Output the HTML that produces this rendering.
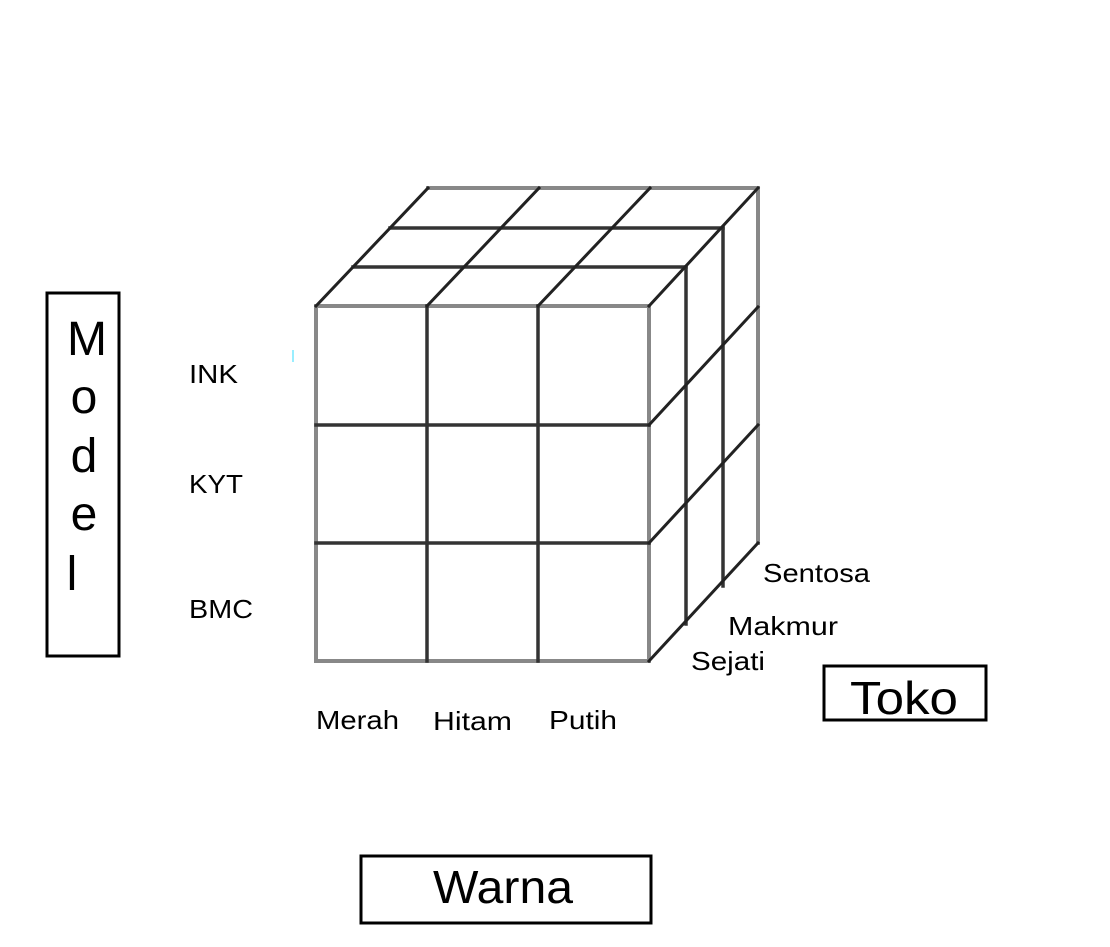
<!DOCTYPE html>
<html><head><style>body{margin:0;background:#fff}svg{display:block}</style></head>
<body>
<svg width="1110" height="947" viewBox="0 0 1110 947" xmlns="http://www.w3.org/2000/svg" font-family="Liberation Sans, sans-serif">
<g stroke-linecap="square" fill="none">
<g stroke="#888" stroke-width="4">
<line x1="316" y1="306" x2="316" y2="661"/>
<line x1="316" y1="661" x2="649" y2="661"/>
<line x1="649" y1="306" x2="649" y2="661"/>
<line x1="316" y1="306" x2="649" y2="306"/>
<line x1="428" y1="188" x2="758" y2="188"/>
<line x1="758" y1="188" x2="758" y2="543"/>
</g>
<g stroke="#333" stroke-width="3.5">
<line x1="427" y1="306" x2="427" y2="661"/>
<line x1="538" y1="306" x2="538" y2="661"/>
<line x1="316" y1="425" x2="649" y2="425"/>
<line x1="316" y1="543" x2="649" y2="543"/>
<line x1="353" y1="267" x2="686" y2="267"/>
<line x1="390" y1="228" x2="723" y2="228"/>
<line x1="686" y1="267" x2="686" y2="624"/>
<line x1="723" y1="228" x2="723" y2="586"/>
</g>
<g stroke="#222" stroke-width="3">
<line x1="316" y1="306" x2="428" y2="188"/>
<line x1="427" y1="306" x2="539" y2="188"/>
<line x1="538" y1="306" x2="650" y2="188"/>
<line x1="649" y1="306" x2="758" y2="188"/>
<line x1="649" y1="425" x2="758" y2="307"/>
<line x1="649" y1="543" x2="758" y2="425"/>
<line x1="649" y1="661" x2="758" y2="543"/>
</g>
</g>
<rect x="47" y="293" width="72" height="363" fill="none" stroke="#000" stroke-width="3"/>
<g font-size="48" text-anchor="middle" fill="#000">
<text x="87" y="355">M</text>
<text x="84" y="413">o</text>
<text x="84" y="472">d</text>
<text x="84" y="530">e</text>
<text x="72" y="590">l</text>
</g>
<g font-size="26" fill="#000" lengthAdjust="spacingAndGlyphs">
<text x="189" y="383" textLength="49" lengthAdjust="spacingAndGlyphs">INK</text>
<text x="189" y="493" textLength="54" lengthAdjust="spacingAndGlyphs">KYT</text>
<text x="189" y="618" textLength="64" lengthAdjust="spacingAndGlyphs">BMC</text>
<text x="316" y="729" textLength="83" lengthAdjust="spacingAndGlyphs">Merah</text>
<text x="433" y="730" textLength="79" lengthAdjust="spacingAndGlyphs">Hitam</text>
<text x="549" y="729" textLength="68" lengthAdjust="spacingAndGlyphs">Putih</text>
<text x="763" y="582" textLength="107" lengthAdjust="spacingAndGlyphs">Sentosa</text>
<text x="728" y="635" textLength="110" lengthAdjust="spacingAndGlyphs">Makmur</text>
<text x="691" y="670" textLength="74" lengthAdjust="spacingAndGlyphs">Sejati</text>
</g>
<rect x="824" y="666" width="162" height="54" fill="none" stroke="#000" stroke-width="3"/>
<text x="850" y="714" font-size="46" textLength="108" lengthAdjust="spacingAndGlyphs">Toko</text>
<rect x="361" y="856" width="290" height="67" fill="none" stroke="#000" stroke-width="3"/>
<text x="433" y="903" font-size="46" textLength="140" lengthAdjust="spacingAndGlyphs">Warna</text>
<rect x="292" y="350" width="2" height="12" fill="#9ef"/>
</svg>
</body></html>
